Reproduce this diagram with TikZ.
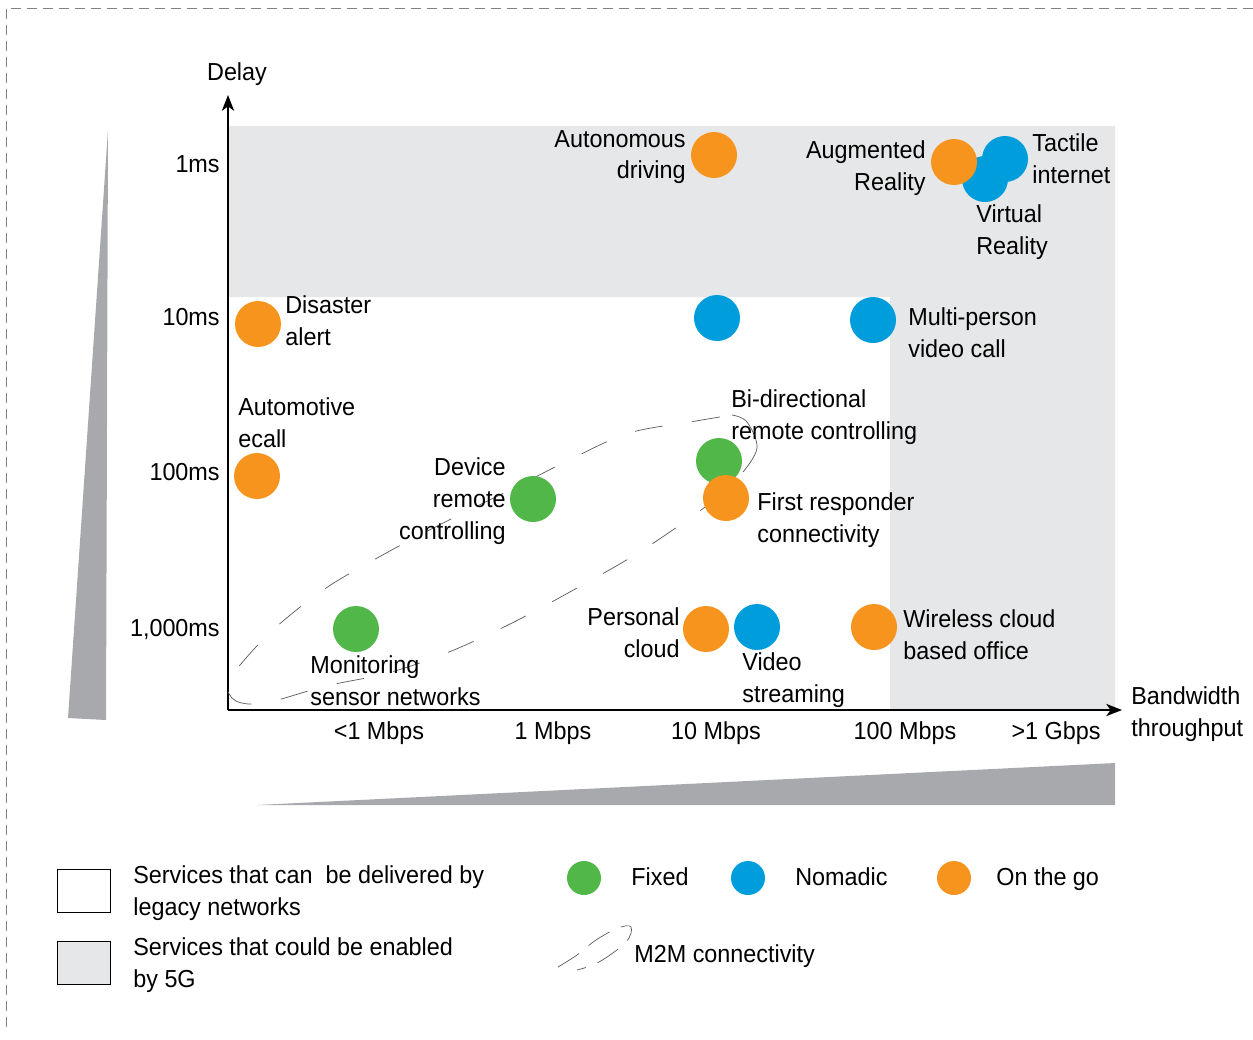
\documentclass[tikz,border=0pt]{standalone}
\usepackage{fontspec}
\setmainfont{Liberation Sans}[FakeStretch=0.95]
\usetikzlibrary{arrows.meta}
\definecolor{gocol}{RGB}{247,148,30}
\definecolor{nomadcol}{RGB}{0,157,220}
\definecolor{fixedcol}{RGB}{80,183,72}
\definecolor{fivegcol}{RGB}{230,231,232}
\definecolor{wedgecol}{RGB}{167,169,172}
\definecolor{framecol}{RGB}{130,130,130}
\definecolor{loopcol}{RGB}{90,90,92}
\tikzset{
  dot/.style={circle,minimum size=0.92cm,inner sep=0pt},
  keydot/.style={circle,minimum size=0.68cm,inner sep=0pt},
  lbl/.style={inner sep=0pt,font=\fontsize{14}{18}\selectfont},
  m2m/.style={loopcol,thin,dash pattern=on 0.56cm off 0.6cm},
  keybox/.style={draw=black,thin,minimum width=1.06cm,minimum height=0.86cm,inner sep=0pt}
}
\begin{document}
\begin{tikzpicture}[x=0.02cm,y=-0.02cm,>={Stealth[length=9pt,width=7pt,inset=2.5pt]}]
            \useasboundingbox (0,0) rectangle (1253,1039);
            % frame and grey areas
            \draw[framecol,dash pattern=on 0.2cm off 0.12cm] (1253,8)--(6,8)--(6,1032);
            \fill[fivegcol] (229,126)--(1115,126)--(1115,710)--(890,710)--(890,297)--(229,297)--cycle;
            \fill[wedgecol] (108,130)--(106,720)--(68,718)--cycle;
            \fill[wedgecol] (257,805)--(1115,763)--(1115,805)--cycle;

            % axes
            \coordinate (origin) at (228,710);
            \coordinate (ytip) at (228,95);
            \coordinate (xtip) at (1122,710);
            \draw[->,thick] (origin)--(ytip);
            \draw[->,thick] (origin)--(xtip);
            \node[lbl,anchor=south] (ylabel) at (237,86) {Delay};
            \node[lbl,anchor=west,align=left] (xlabel) at (1131,714) {Bandwidth\\throughput};

            \node[lbl,anchor=east] (d1) at (220,164) {1ms};
            \node[lbl,anchor=east] (d10) at (220,317) {10ms};
            \node[lbl,anchor=east] (d100) at (220,472) {100ms};
            \node[lbl,anchor=east] (d1000) at (220,629) {1,000ms};
            \node[lbl] (b1) at (379,733) {<1 Mbps};
            \node[lbl] (b2) at (553,733) {1 Mbps};
            \node[lbl] (b3) at (716,733) {10 Mbps};
            \node[lbl] (b4) at (905,733) {100 Mbps};
            \node[lbl] (b5) at (1056,733) {>1 Gbps};

            % M2M loop, drawn by hand
            \draw[m2m] plot[smooth,tension=0.55] coordinates {(722,493) (697,513) (638,553) (577,588) (512,623) (449,652) (388,673) (326,686) (265,703) (236,701) (227,685) (240,665) (275,628) (326,588) (388,552) (449,520) (514,488) (573,458) (629,433) (690,422) (732,415)};
            \draw[loopcol,thin] plot[smooth,tension=0.6] coordinates {(732,415) (747,422) (757,448) (743,472)};

            % services
            \node[dot,fill=gocol] (autodrive) at (714,155) {};
            \node[lbl,anchor=east,align=right] (autodrivelbl) at (686,157) {Autonomous\\driving};
            \node[dot,fill=nomadcol] (vr) at (985,179) {};
            \node[dot,fill=nomadcol] (tactile) at (1005,159) {};
            \node[dot,fill=gocol] (ar) at (954,162) {};
            \node[lbl,anchor=east,align=right] (arlbl) at (926,168) {Augmented\\Reality};
            \node[lbl,anchor=west,align=left] (tactilelbl) at (1032,159) {Tactile\\internet};
            \node[lbl,anchor=west,align=left] (vrlbl) at (976,232) {Virtual\\Reality};

            \node[dot,fill=gocol] (disaster) at (258,324) {};
            \node[lbl,anchor=west,align=left] (disasterlbl) at (285,321) {Disaster\\alert};
            \node[dot,fill=nomadcol] (blue10) at (717,318) {};
            \node[dot,fill=nomadcol] (multi) at (873,320) {};
            \node[lbl,anchor=west,align=left] (multilbl) at (908,333) {Multi-person\\video call};

            \node[lbl,anchor=west,align=left] (ecalllbl) at (238,423) {Automotive\\ecall};
            \node[dot,fill=gocol] (ecall) at (257,476) {};
            \node[dot,fill=fixedcol] (device) at (533,499) {};
            \node[lbl,anchor=east,align=right] (devicelbl) at (506,501) {Device\\remote\\controlling};
            \node[dot,fill=fixedcol] (bidir) at (719,461) {};
            \node[lbl,anchor=west,align=left] (bidirlbl) at (731,417) {Bi-directional\\remote controlling};
            \node[dot,fill=gocol] (firstresp) at (726,498) {};
            \node[lbl,anchor=west,align=left] (firstresplbl) at (757,520) {First responder\\connectivity};

            \node[dot,fill=fixedcol] (monitor) at (356,629) {};
            \node[lbl,anchor=west,align=left] (monitorlbl) at (310,681) {Monitoring\\sensor networks};
            \node[dot,fill=gocol] (pcloud) at (706,629) {};
            \node[lbl,anchor=east,align=right] (pcloudlbl) at (680,633) {Personal\\cloud};
            \node[dot,fill=nomadcol] (video) at (757,627) {};
            \node[lbl,anchor=west,align=left] (videolbl) at (742,680) {Video\\streaming};
            \node[dot,fill=gocol] (wcloud) at (874,627) {};
            \node[lbl,anchor=west,align=left] (wcloudlbl) at (903,635) {Wireless cloud\\based office};

            % legend
            \node[keybox,fill=white] (legacybox) at (83.5,890.5) {};
            \node[lbl,anchor=west,align=left] (legacylbl) at (133,893) {Services that can\ \ be delivered by\\legacy networks};
            \node[keybox,fill=fivegcol] (fivegbox) at (83.5,962.5) {};
            \node[lbl,anchor=west,align=left] (fiveglbl) at (133,965) {Services that could be enabled\\by 5G};
            \node[keydot,fill=fixedcol] (fixedkey) at (584,878) {};
            \node[lbl,anchor=west] (fixedlbl) at (631,877) {Fixed};
            \node[keydot,fill=nomadcol] (nomadkey) at (748,878) {};
            \node[lbl,anchor=west] (nomadlbl) at (795,877) {Nomadic};
            \node[keydot,fill=gocol] (gokey) at (954,878) {};
            \node[lbl,anchor=west] (golbl) at (996,879) {On the go};
            \draw[loopcol,thin,dash pattern=on 0.5cm off 0.25cm] plot[smooth,tension=0.6] coordinates {(558,967) (577,955) (596,940) (618,928) (631,927) (626,942) (599,962) (577,970)};
            \node[lbl,anchor=west] (m2mlbl) at (634,956) {M2M connectivity};
        \end{tikzpicture}
\end{document}
